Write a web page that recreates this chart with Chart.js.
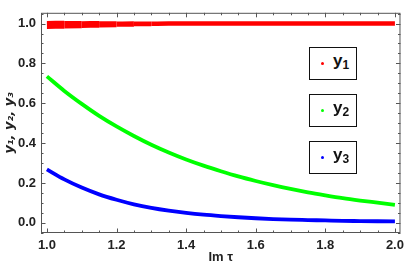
<!DOCTYPE html>
<html>
<head>
<meta charset="utf-8">
<script src="https://cdn.jsdelivr.net/npm/chart.js@4.4.0/dist/chart.umd.min.js"></script>
<style>
  body { margin: 0; background: #fff; }
  #wrap { position: relative; width: 409px; height: 273px; }
  .key {
    position: absolute; left: 309px; width: 48px; height: 33px;
    box-sizing: border-box; border: 1.5px solid #111; background: #fff;
    font: bold 17px "Liberation Sans", Arial, sans-serif; color: #111;
  }
  .key .dot { position: absolute; left: 11px; top: 14px; width: 3px; height: 3px; border-radius: 50%; }
  .key .name { position: absolute; left: 23px; top: 3px; line-height: 19px; }
  .key sub { font-size: 12px; vertical-align: -3px; }
</style>
</head>
<body>
<div id="wrap">
  <canvas id="chart" width="409" height="273"></canvas>
</div>
<script>
// values
const xGrid = [1.0, 1.05, 1.1, 1.15, 1.2, 1.25, 1.3, 1.35, 1.4, 1.45, 1.5,
               1.55, 1.6, 1.65, 1.7, 1.75, 1.8, 1.85, 1.9, 1.95, 2.0];
const y2 = [0.735, 0.662, 0.597, 0.537, 0.484, 0.436, 0.392, 0.353, 0.318, 0.287, 0.259,
            0.233, 0.21, 0.189, 0.17, 0.153, 0.138, 0.124, 0.112, 0.101, 0.09];
const y3 = [0.268, 0.218, 0.177, 0.143, 0.116, 0.093, 0.075, 0.061, 0.05, 0.041, 0.034,
            0.028, 0.023, 0.019, 0.016, 0.014, 0.012, 0.01, 0.009, 0.008, 0.007];

const xRed = [1.0, 1.05, 1.1, 1.15, 1.2, 1.25, 1.3, 1.35, 1.4, 1.5, 1.6, 1.7, 1.8, 1.9, 2.0];
const y1 = [0.993, 0.994, 0.995, 0.996, 0.997, 0.998, 0.999, 1.0, 1.0, 1.0, 1.0, 1.0, 1.0, 1.0, 1.0];

const seriesNames = ["y1", "y2", "y3"];
const seriesColors = ["#ff0000", "#00ff00", "#0000ff"];

const xTicks = [1.0, 1.2, 1.4, 1.6, 1.8, 2.0];
const yTicks = [0.0, 0.2, 0.4, 0.6, 0.8, 1.0];
const minorStep = 0.05;

const frameColor = "#555";
const labelFont = { family: "'Liberation Sans', Arial, sans-serif", size: 13, weight: "bold" };

function pts(xs, ys) {
  return xs.map((x, i) => ({ x, y: ys[i] }));
}

// Mathematica style frame with inward ticks on all four sides
const frameTicks = {
  id: "frameTicks",
  afterDraw(chart) {
    const { ctx, chartArea: a, scales: { x, y } } = chart;
    ctx.save();
    ctx.strokeStyle = frameColor;
    ctx.lineWidth = 1;
    ctx.strokeRect(a.left + 0.5, a.top + 0.5, a.right - a.left - 1, a.bottom - a.top - 1);

    ctx.beginPath();
    for (let v = Math.ceil(x.min / minorStep) * minorStep; v <= x.max; v += minorStep) {
      const major = xTicks.some(t => Math.abs(t - v) < 1e-6);
      const len = major ? 4.5 : 2.5;
      const px = Math.round(x.getPixelForValue(v)) + 0.5;
      ctx.moveTo(px, a.bottom); ctx.lineTo(px, a.bottom - len);
      ctx.moveTo(px, a.top); ctx.lineTo(px, a.top + len);
    }
    for (let v = Math.ceil(y.min / minorStep) * minorStep; v <= y.max; v += minorStep) {
      const major = yTicks.some(t => Math.abs(t - v) < 1e-6);
      const len = major ? 4.5 : 2.5;
      const py = Math.round(y.getPixelForValue(v)) + 0.5;
      ctx.moveTo(a.left, py); ctx.lineTo(a.left + len, py);
      ctx.moveTo(a.right, py); ctx.lineTo(a.right - len, py);
    }
    ctx.stroke();
    ctx.restore();
  }
};

const chart = new Chart(document.getElementById("chart"), {
  type: "line",
  data: {
    datasets: [
      {
        label: seriesNames[0],
        data: pts(xRed, y1),
        borderColor: seriesColors[0],
        borderWidth: 4.5,
        segment: {
          // band is widest (noisiest) at the left end
          borderWidth: c => Math.max(4.5, 8 - (c.p0.parsed.x - 1) * 13)
        }
      },
      { label: seriesNames[1], data: pts(xGrid, y2), borderColor: seriesColors[1], borderWidth: 3.8 },
      { label: seriesNames[2], data: pts(xGrid, y3), borderColor: seriesColors[2], borderWidth: 3.8 }
    ]
  },
  options: {
    responsive: false,
    animation: false,
    devicePixelRatio: 1,
    layout: { padding: { top: 1, right: 3, left: 0, bottom: 0 } },
    elements: {
      point: { radius: 0 },
      line: { cubicInterpolationMode: "monotone", fill: false }
    },
    plugins: { legend: { display: false }, tooltip: { enabled: false } },
    scales: {
      x: {
        type: "linear",
        min: 0.983,
        max: 2.016,
        afterBuildTicks: s => { s.ticks = xTicks.map(v => ({ value: v })); },
        afterFit: s => { s.height = 40; },
        grid: { display: false, drawTicks: false },
        border: { display: false },
        ticks: { padding: 5, color: "#222", font: labelFont, maxRotation: 0, callback: v => v.toFixed(1) },
        title: { display: true, text: "Im τ", color: "#222", font: labelFont, padding: { top: 0, bottom: 8 } }
      },
      y: {
        min: -0.051,
        max: 1.054,
        afterBuildTicks: s => { s.ticks = yTicks.map(v => ({ value: v })); },
        afterFit: s => { s.width = 41; },
        grid: { display: false, drawTicks: false },
        border: { display: false },
        ticks: { padding: 5, color: "#222", font: labelFont, callback: v => v.toFixed(1) },
        title: {
          display: true, text: "y₁, y₂, y₃", color: "#222",
          font: { family: "'DejaVu Sans', sans-serif", size: 13, weight: "bold", style: "italic" },
          padding: { top: 2, bottom: 0 }
        }
      }
    }
  },
  plugins: [frameTicks]
});

// boxed legend entries on the right
const keyTops = [47, 94, 141];
chart.data.datasets.forEach((ds, i) => {
  const box = document.createElement("div");
  box.className = "key";
  box.style.top = keyTops[i] + "px";
  const n = ds.label;
  box.innerHTML = '<span class="dot" style="background:' + ds.borderColor + '"></span>' +
    '<span class="name">' + n[0] + "<sub>" + n.slice(1) + "</sub></span>";
  document.getElementById("wrap").appendChild(box);
});
</script>
</body>
</html>
